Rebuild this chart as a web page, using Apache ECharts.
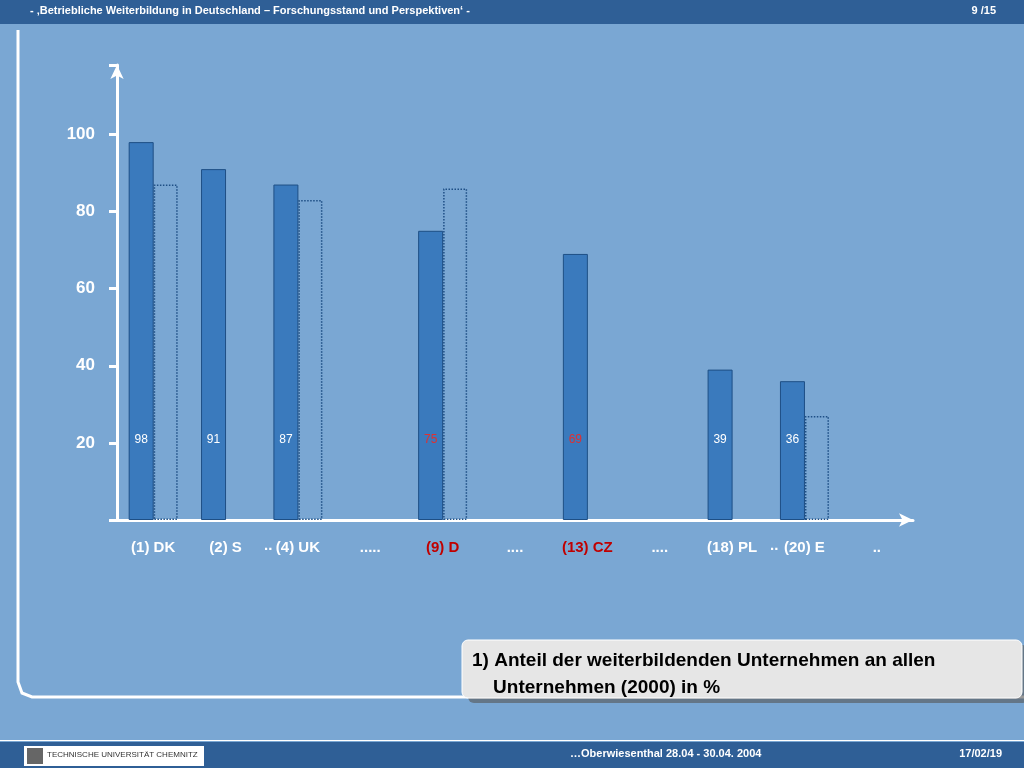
<!DOCTYPE html>
<html><head><meta charset="utf-8">
<script src="https://cdn.jsdelivr.net/npm/echarts@6/dist/echarts.min.js"></script>
<style>html,body{margin:0;padding:0;background:#7aa7d3}#main{width:1024px;height:768px}</style>
</head><body><div id="main"></div>
<script>
// Anteil der weiterbildenden Unternehmen (2000) in %
const categories = ['(1) DK', '(2) S', '(4) UK', '.....', '(9) D', '....', '(13) CZ', '....', '(18) PL', '(20) E', '..'];
const shares = [98, 91, 87, null, 75, null, 69, null, 39, 36, null];
const compare = [87, null, 83, null, 86, null, null, null, null, 27, null];
const redCats = ['(9) D', '(13) CZ'];
const yTicks = [20, 40, 60, 80, 100];

const font = 'Liberation Sans, Arial, sans-serif';
const chart = echarts.init(document.getElementById('main'));
chart.setOption({
    backgroundColor: '#7aa7d3',
    textStyle: {fontFamily: font},
    grid: {left: 117, right: 111, top: 65, bottom: 248},
    xAxis: {
        type: 'category',
        data: categories,
        axisLine: {lineStyle: {color: '#fff', width: 3}, symbol: ['none', 'arrow'], symbolSize: [10, 14]},
        axisTick: {show: false},
        axisLabel: {
            margin: 20, fontSize: 15, fontWeight: 'bold',
            color: v => redCats.includes(v) ? '#c00000' : '#fff'
        }
    },
    yAxis: {
        type: 'value', min: 0, max: 118, interval: 20,
        splitLine: {show: false},
        axisLine: {show: true, lineStyle: {color: '#fff', width: 3}, symbol: ['none', 'arrow'], symbolSize: [10, 14]},
        axisTick: {show: true, inside: false, length: 8, lineStyle: {color: '#fff', width: 3}},
        axisLabel: {
            fontSize: 17, fontWeight: 'bold', color: '#fff', margin: 22,
            formatter: v => yTicks.includes(v) ? String(v) : ''
        }
    },
    graphic: [
        {type: 'rect', shape: {x: 0, y: 0, width: 1024, height: 24}, style: {fill: '#2f5f96'}},
        {type: 'text', left: 30, top: 5, style: {text: '- ‚Betriebliche Weiterbildung in Deutschland – Forschungsstand und Perspektiven‘ -', fill: '#fff', font: 'bold 11px ' + font}},
        {type: 'text', right: 28, top: 5, style: {text: '9 /15', fill: '#fff', font: 'bold 11px ' + font}},
        {type: 'polyline', shape: {points: [[18, 30], [18, 682], [22, 693], [32, 697], [1024, 697]]}, style: {stroke: '#fff', lineWidth: 3, fill: null}},
        {type: 'text', left: 264, top: 538, style: {text: '..', fill: '#fff', font: 'bold 15px ' + font}},
        {type: 'text', left: 770, top: 538, style: {text: '..', fill: '#fff', font: 'bold 15px ' + font}},
        {type: 'rect', shape: {x: 468, y: 645, width: 560, height: 58, r: 6}, style: {fill: '#555', opacity: 0.6}},
        {type: 'rect', shape: {x: 462, y: 640, width: 560, height: 58, r: 6}, style: {fill: '#e6e6e6', stroke: '#fff', lineWidth: 1}},
        {type: 'text', left: 472, top: 647, style: {text: '1) Anteil der weiterbildenden Unternehmen an allen\n    Unternehmen (2000) in %', fill: '#000', font: 'bold 19px ' + font, lineHeight: 27}},
        {type: 'rect', shape: {x: 0, y: 742, width: 1024, height: 26}, style: {fill: '#2f5f96'}},
        {type: 'rect', shape: {x: 0, y: 740, width: 1024, height: 1}, style: {fill: '#fff'}},
        {type: 'rect', shape: {x: 24, y: 746, width: 180, height: 20}, style: {fill: '#fff'}},
        {type: 'rect', shape: {x: 27, y: 748, width: 16, height: 16}, style: {fill: '#666'}},
        {type: 'text', left: 47, top: 751, style: {text: 'TECHNISCHE UNIVERSITÄT CHEMNITZ', fill: '#333', font: '8px ' + font}},
        {type: 'text', left: 570, top: 748, style: {text: '…Oberwiesenthal 28.04 - 30.04. 2004', fill: '#fff', font: 'bold 11px ' + font}},
        {type: 'text', right: 22, top: 748, style: {text: '17/02/19', fill: '#fff', font: 'bold 11px ' + font}}
    ],
    series: [
        {
            type: 'bar', barWidth: 25, barGap: '0%',
            data: shares.map((v, i) => redCats.includes(categories[i]) ? {value: v, label: {color: '#e03030'}} : v),
            itemStyle: {color: '#3a7abd', borderColor: '#1e4f85', borderWidth: 1},
            label: {show: true, position: 'insideBottom', distance: 74, fontSize: 12, color: '#fff'}
        },
        {
            type: 'bar', data: compare, barWidth: 24,
            itemStyle: {color: 'rgba(0,0,0,0)', borderColor: '#1e4f85', borderWidth: 1.5, borderType: 'dotted'}
        }
    ]
});
</script></body></html>
